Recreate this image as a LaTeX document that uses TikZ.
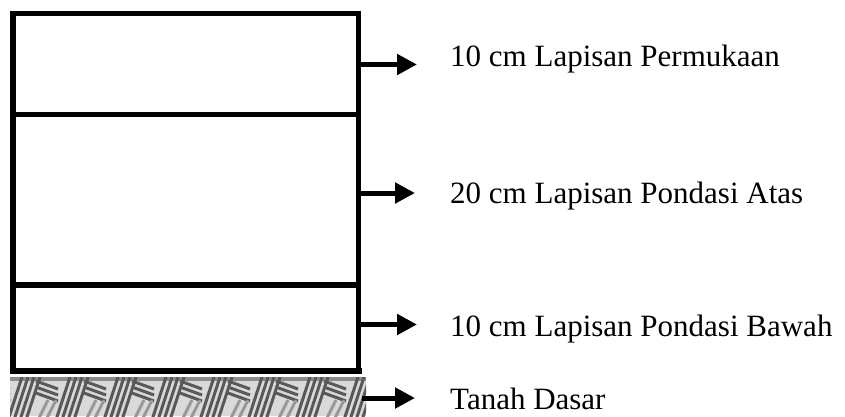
\documentclass[tikz,border=0pt]{standalone}
\usepackage{fontspec}
\setmainfont{Liberation Serif}
\usetikzlibrary{arrows.meta}
\begin{document}
\begin{tikzpicture}[x=1pt,y=-1pt,
  wall/.style={line width=5.5pt},
  pointer/.style={line width=5pt,-{Triangle[length=20pt,width=20pt]}},
  lbl/.style={anchor=base west,inner sep=0pt,font=\fontsize{31}{36}\selectfont},
  hatch/.style={line width=3pt,draw=black!65}]
\useasboundingbox (0,0) rectangle (845,416);
% ground hatching
\begin{scope}
\clip (10,377) rectangle (366,416);
\fill[black!15] (10,377) rectangle (366,416);
\fill[black!45] (10,377) rectangle (366,381);
\foreach \p in {-40,8,56,104,152,200,248,296,344}{
  \foreach \d in {0,6,12,18}{
    \draw[hatch] (\p+\d,420) -- (\p+\d+15,374);
  }
  \foreach \d in {0,6,12}{
    \draw[hatch] (\p+28,381+\d) -- (\p+50,389+\d);
  }
  \draw[hatch,draw=black!40] (\p+30,420) -- (\p+40,400);
  \draw[hatch,draw=black!40] (\p+38,420) -- (\p+48,400);
}
\end{scope}
% layers
\coordinate (tl) at (13,13.5);
\coordinate (tr) at (358.5,13.5);
\coordinate (bl) at (13,371);
\coordinate (br) at (358.5,371);
\draw[wall] (tl) -- (tr);
\draw[wall] (13,10.8) -- (bl);
\draw[wall] (358.5,10.8) -- (358.5,373.5);
\draw[wall,line width=6.5pt] (10,371) -- (361.5,371);
\draw[wall] (13,114.5) coordinate (d1l) -- (358.5,114.5) coordinate (d1r);
\draw[wall] (13,285) coordinate (d2l) -- (358.5,285) coordinate (d2r);
% arrows
\coordinate (a1s) at (359,64.5);  \coordinate (a1e) at (417,64.5);
\coordinate (a2s) at (359,193);   \coordinate (a2e) at (415,193);
\coordinate (a3s) at (359,324.5); \coordinate (a3e) at (417,324.5);
\coordinate (a4s) at (362,398);   \coordinate (a4e) at (415,398);
\draw[pointer] (a1s) -- (a1e);
\draw[pointer] (a2s) -- (a2e);
\draw[pointer] (a3s) -- (a3e);
\draw[pointer] (a4s) -- (a4e);
% labels
\node[lbl] (t1) at (450,66) {10 cm Lapisan Permukaan};
\node[lbl] (t2) at (450,203) {20 cm Lapisan Pondasi Atas};
\node[lbl] (t3) at (450,336) {10 cm Lapisan Pondasi Bawah};
\node[lbl] (t4) at (450,409) {Tanah Dasar};
\end{tikzpicture}
\end{document}
